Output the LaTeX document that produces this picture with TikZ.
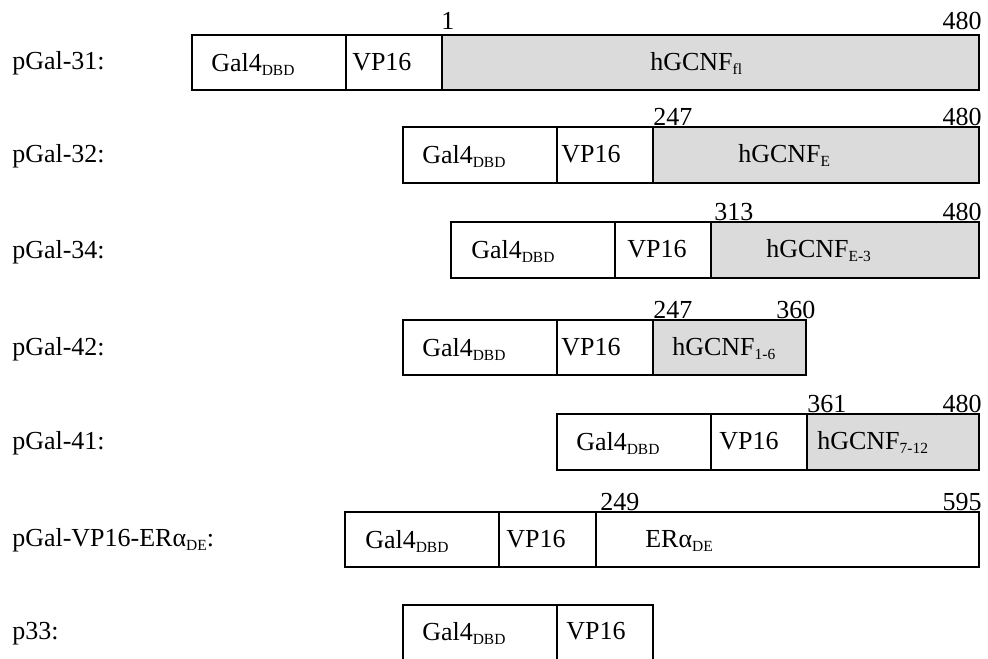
\documentclass[tikz,border=0pt]{standalone}
\usepackage{fontspec}
\setmainfont{Liberation Serif}
\usetikzlibrary{fit}
\newcommand\subtx[1]{\raisebox{-3.2pt}{\fontsize{11.6}{12}\selectfont #1}}
\tikzset{
  seg/.style={draw=black, line width=1.1pt, fill=white, inner sep=0pt, rectangle},
  gseg/.style={seg, fill=gray!28},
  txt/.style={inner sep=0pt, anchor=base west, font=\fontsize{19.5}{22}\selectfont},
  num/.style={txt},
  numr/.style={txt, anchor=base east},
}
\begin{document}
\begin{tikzpicture}[x=0.75pt,y=-0.75pt]
\clip (0,0) rectangle (988,658);
\fill[white] (0,0) rectangle (988,658);
% row 1
\node[seg,  fit={(192,35) (346,90)}] (a1) {};
\node[seg,  fit={(346,35) (442,90)}] (b1) {};
\node[gseg, fit={(442,35) (979,90)}] (c1) {};
\node[txt] (l1) at (12,69) {pGal-31:};
\node[txt] (t1a) at (211,71) {Gal4\subtx{DBD}};
\node[txt] (t1b) at (352,70) {VP16};
\node[txt] (t1c) at (650,70) {hGCNF\subtx{fl}};
\node[num] (n1a) at (441,29) {1};
\node[numr] (n1b) at (982,29) {480};
% row 2
\node[seg,  fit={(403,127) (557,183)}] (a2) {};
\node[seg,  fit={(557,127) (653,183)}] (b2) {};
\node[gseg, fit={(653,127) (979,183)}] (c2) {};
\node[txt] (l2) at (12,162) {pGal-32:};
\node[txt] (t2a) at (422,163) {Gal4\subtx{DBD}};
\node[txt] (t2b) at (561,162) {VP16};
\node[txt] (t2c) at (738,162) {hGCNF\subtx{E}};
\node[num] (n2a) at (653,125) {247};
\node[numr] (n2b) at (982,125) {480};
% row 3
\node[seg,  fit={(451,222) (615,278)}] (a3) {};
\node[seg,  fit={(615,222) (711,278)}] (b3) {};
\node[gseg, fit={(711,222) (979,278)}] (c3) {};
\node[txt] (l3) at (12,258) {pGal-34:};
\node[txt] (t3a) at (471,258) {Gal4\subtx{DBD}};
\node[txt] (t3b) at (627,257) {VP16};
\node[txt] (t3c) at (766,257) {hGCNF\subtx{E-3}};
\node[num] (n3a) at (714,220) {313};
\node[numr] (n3b) at (982,220) {480};
% row 4
\node[seg,  fit={(403,320) (557,375)}] (a4) {};
\node[seg,  fit={(557,320) (653,375)}] (b4) {};
\node[gseg, fit={(653,320) (806,375)}] (c4) {};
\node[txt] (l4) at (12,355) {pGal-42:};
\node[txt] (t4a) at (422,356) {Gal4\subtx{DBD}};
\node[txt] (t4b) at (561,355) {VP16};
\node[txt] (t4c) at (672,355) {hGCNF\subtx{1-6}};
\node[num] (n4a) at (653,318) {247};
\node[num] (n4b) at (776,318) {360};
% row 5
\node[seg,  fit={(557,414) (711,470)}] (a5) {};
\node[seg,  fit={(711,414) (807,470)}] (b5) {};
\node[gseg, fit={(807,414) (979,470)}] (c5) {};
\node[txt] (l5) at (12,449) {pGal-41:};
\node[txt] (t5a) at (576,450) {Gal4\subtx{DBD}};
\node[txt] (t5b) at (719,449) {VP16};
\node[txt] (t5c) at (817,449) {hGCNF\subtx{7-12}};
\node[num] (n5a) at (807,412) {361};
\node[numr] (n5b) at (982,412) {480};
% row 6
\node[seg, fit={(345,512) (499,567)}] (a6) {};
\node[seg, fit={(499,512) (596,567)}] (b6) {};
\node[seg, fit={(596,512) (979,567)}] (c6) {};
\node[txt] (l6) at (12,546) {pGal-VP16-ERα\subtx{DE}:};
\node[txt] (t6a) at (365,548) {Gal4\subtx{DBD}};
\node[txt] (t6b) at (506,547) {VP16};
\node[txt] (t6c) at (645,547) {ERα\subtx{DE}};
\node[num] (n6a) at (600,510) {249};
\node[numr] (n6b) at (982,510) {595};
% row 7
\node[seg, fit={(403,605) (557,680)}] (a7) {};
\node[seg, fit={(557,605) (653,680)}] (b7) {};
\node[txt] (l7) at (12,639) {p33:};
\node[txt] (t7a) at (422,640) {Gal4\subtx{DBD}};
\node[txt] (t7b) at (566,639) {VP16};
\end{tikzpicture}
\end{document}
